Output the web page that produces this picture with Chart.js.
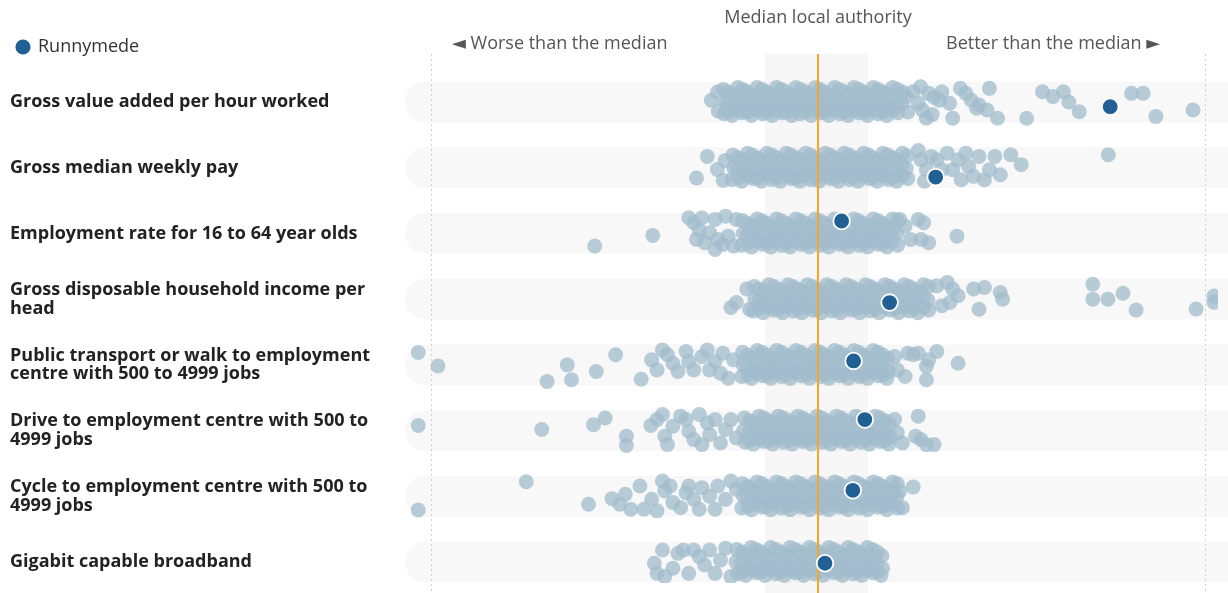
<!DOCTYPE html>
<html>
<head>
<meta charset="utf-8">
<script src="https://cdn.jsdelivr.net/npm/chart.js"></script>
<style>
  html, body { margin: 0; background: #fff; }
</style>
</head>
<body>
<canvas id="chart" width="1228" height="593"></canvas>
<script>
// indicators, top to bottom
const categories = [
  'Gross value added per hour worked',
  'Gross median weekly pay',
  'Employment rate for 16 to 64 year olds',
  ['Gross disposable household income per', 'head'],
  ['Public transport or walk to employment', 'centre with 500 to 4999 jobs'],
  ['Drive to employment centre with 500 to', '4999 jobs'],
  ['Cycle to employment centre with 500 to', '4999 jobs'],
  'Gigabit capable broadband'
];

const medianLabel = 'Median local authority';
const worseLabel = '\u25C4 Worse than the median';
const betterLabel = 'Better than the median \u25BA';

// [score relative to the median (-100 / 100 = guide lines), jitter lane]
const gvaPerHour = [
  [-27.6,-0.1],[-26,-0.55],[-25.8,0.5],
  [-24.5,-0.7],[-24,0],[-24.3,0.65],[-22,-0.4],[-21.8,0.3],[-22.2,0.75],
  [-19.5,-0.7],[-19.3,0.05],[-19.7,0.6],[-17,-0.35],[-16.8,0.35],[-17.2,0.75],
  [-14.5,-0.7],[-14.6,0],[-14.3,0.65],[-12,-0.4],[-12.2,0.3],[-11.8,0.75],
  [-9.5,-0.7],[-9.6,-0.05],[-9.3,0.6],[-7,-0.35],[-7.2,0.35],[-6.8,0.75],
  [-4.5,-0.7],[-4.4,0],[-4.6,0.65],[-2,-0.4],[-2.2,0.3],[-1.8,0.75],
  [0.5,-0.7],[0.4,0.05],[0.7,0.6],[3,-0.35],[3.2,0.35],[2.8,0.75],
  [5.5,-0.7],[5.4,0],[5.6,0.65],[8,-0.4],[8.2,0.3],[7.8,0.75],
  [10.5,-0.7],[10.4,0.05],[10.6,0.6],[13,-0.35],[13.2,0.35],[12.8,0.75],
  [15.5,-0.7],[15.4,0],[15.6,0.65],[18,-0.4],[18.2,0.3],[17.8,0.75],
  [20.5,-0.7],[20.4,0.05],[20.6,0.6],
  [-23.2,-0.55],[-23.3,0.1],[-23.2,0.55],[-20.7,-0.8],[-20.8,-0.15],[-20.7,0.45],
  [-18.2,-0.55],[-18.3,0.1],[-18.2,0.55],[-15.7,-0.8],[-15.8,-0.15],[-15.7,0.45],
  [-13.2,-0.55],[-13.3,0.1],[-13.2,0.55],[-10.7,-0.8],[-10.8,-0.15],[-10.7,0.45],
  [-8.2,-0.55],[-8.3,0.1],[-8.2,0.55],[-5.7,-0.8],[-5.8,-0.15],[-5.7,0.45],
  [-3.2,-0.55],[-3.3,0.1],[-3.2,0.55],[-0.7,-0.8],[-0.8,-0.15],[-0.7,0.45],
  [1.8,-0.55],[1.7,0.1],[1.8,0.55],[4.3,-0.8],[4.2,-0.15],[4.3,0.45],
  [6.8,-0.55],[6.7,0.1],[6.8,0.55],[9.3,-0.8],[9.2,-0.15],[9.3,0.45],
  [11.8,-0.55],[11.7,0.1],[11.8,0.55],[14.3,-0.8],[14.2,-0.15],[14.3,0.45],
  [16.8,-0.55],[16.7,0.1],[16.8,0.55],[19.3,-0.8],[19.2,-0.15],[19.3,0.45],
  [21.8,-0.55],[21.7,0.1],
  [22.8,-0.3],[23.2,0.55],[24.6,-0.57],[25.9,0.07],[26.5,-0.85],[27,0.45],[28,0.9],[28.6,-0.48],[30,-0.25],[29.5,0.7],
  [31.4,-0.1],[32,-0.57],[34,0.07],[34.8,0.9],[36.8,-0.76],[38.2,-0.48],[39.6,-0.1],[41,0.35],[41.6,0.17],[43.7,0.44],[44.3,-0.76],[46.4,0.9],
  [53.9,0.9],[58,-0.57],[60.7,-0.3],[63.4,-0.57],[64.8,0],[67.5,0.54],[81,-0.48],[84,-0.48],[87.3,0.81],[96.9,0.44]
];

const weeklyPay = [
  [-31.4,0.57],[-28.6,-0.63],[-26,0.1],[-24.5,0.7],[-24,-0.4],
  [-22,-0.7],[-21.8,0],[-22.2,0.65],[-19.5,-0.4],[-19.3,0.3],[-19.7,0.75],
  [-17,-0.7],[-17.2,0.05],[-16.8,0.6],[-14.5,-0.35],[-14.3,0.35],[-14.7,0.75],
  [-12,-0.7],[-12.1,0],[-11.9,0.65],[-9.5,-0.4],[-9.3,0.3],[-9.7,0.75],
  [-7,-0.7],[-7.2,0.05],[-6.8,0.6],[-4.5,-0.35],[-4.3,0.35],[-4.7,0.75],
  [-2,-0.7],[-2.1,0],[-1.9,0.65],[0.5,-0.4],[0.7,0.3],[0.3,0.75],
  [3,-0.7],[2.8,0.05],[3.2,0.6],[5.5,-0.35],[5.7,0.35],[5.3,0.75],
  [8,-0.7],[7.9,0],[8.1,0.65],[10.5,-0.4],[10.7,0.3],[10.3,0.75],
  [13,-0.7],[12.8,0.05],[13.2,0.6],[15.5,-0.35],[15.7,0.35],[15.3,0.75],
  [18,-0.7],[17.9,0],[18.1,0.65],[20.5,-0.4],[20.7,0.3],[20.3,0.75],
  [23,-0.65],[22.8,0.05],[23.2,0.6],
  [-20.7,-0.55],[-20.8,0.1],[-20.7,0.55],[-18.2,-0.8],[-18.3,-0.15],[-18.2,0.45],
  [-15.7,-0.55],[-15.8,0.1],[-15.7,0.55],[-13.2,-0.8],[-13.3,-0.15],[-13.2,0.45],
  [-10.7,-0.55],[-10.8,0.1],[-10.7,0.55],[-8.2,-0.8],[-8.3,-0.15],[-8.2,0.45],
  [-5.7,-0.55],[-5.8,0.1],[-5.7,0.55],[-3.2,-0.8],[-3.3,-0.15],[-3.2,0.45],
  [-0.7,-0.55],[-0.8,0.1],[-0.7,0.55],[1.8,-0.8],[1.7,-0.15],[1.8,0.45],
  [4.3,-0.55],[4.2,0.1],[4.3,0.55],[6.8,-0.8],[6.7,-0.15],[6.8,0.45],
  [9.3,-0.55],[9.2,0.1],[9.3,0.55],[11.8,-0.8],[11.7,-0.15],[11.8,0.45],
  [14.3,-0.55],[14.2,0.1],[14.3,0.55],[16.8,-0.8],[16.7,-0.15],[16.8,0.45],
  [19.3,-0.55],[19.2,0.1],[19.3,0.55],[21.8,-0.8],[21.7,-0.15],[21.8,0.45],
  [25.9,-0.95],[26.6,-0.44],[27.5,0.75],[28,0.11],[29.3,-0.63],[30.7,-0.44],[32,0.11],[33.4,-0.81],[34.8,0.11],[36.2,-0.44],[37,0.67],
  [38.2,-0.81],[38.9,-0.07],[40.2,0.48],[41.6,-0.63],[43,0.67],[44.3,0.11],[45.7,-0.63],[47.1,0.39],[49.8,-0.72],[52.5,-0.17],[75,-0.72]
];

const employmentRate = [
  [-57.7,0.7],[-42.7,0.11],
  [-33.4,-0.87],[-32.1,-0.59],[-31.4,0.33],[-30.7,-0.2],[-30,-0.87],[-29.3,0.52],[-28,-0.04],[-26.6,-0.78],[-26.6,0.89],
  [-25.9,0.33],[-24.6,0.61],[-23.9,-0.96],[-23.2,0.15],[-21.8,0.7],[-21.1,-0.78],
  [-19.5,-0.7],[-19.3,0],[-19.7,0.65],[-17,-0.4],[-16.8,0.3],[-17.2,0.75],
  [-14.5,-0.7],[-14.6,0.05],[-14.4,0.6],[-12,-0.35],[-11.8,0.35],[-12.2,0.75],
  [-9.5,-0.7],[-9.6,0],[-9.4,0.65],[-7,-0.4],[-6.8,0.3],[-7.2,0.75],
  [-4.5,-0.7],[-4.6,0.05],[-4.4,0.6],[-2,-0.35],[-1.8,0.35],[-2.2,0.75],
  [0.5,-0.7],[0.4,0],[0.6,0.65],[3,-0.4],[3.2,0.3],[2.8,0.75],
  [5.5,-0.7],[5.4,0.05],[5.6,0.6],[8,-0.35],[8.2,0.35],[7.8,0.75],
  [10.5,-0.7],[10.4,0],[10.6,0.65],[13,-0.4],[13.2,0.3],[12.8,0.75],
  [15.5,-0.7],[15.4,0.05],[15.6,0.6],[18,-0.35],[18.2,0.35],[17.8,0.75],
  [20.5,-0.7],[20.4,0],[20.6,0.65],
  [-18.2,-0.55],[-18.3,0.1],[-18.2,0.55],[-15.7,-0.8],[-15.8,-0.15],[-15.7,0.45],
  [-13.2,-0.55],[-13.3,0.1],[-13.2,0.55],[-10.7,-0.8],[-10.8,-0.15],[-10.7,0.45],
  [-8.2,-0.55],[-8.3,0.1],[-8.2,0.55],[-5.7,-0.8],[-5.8,-0.15],[-5.7,0.45],
  [-3.2,-0.55],[-3.3,0.1],[-3.2,0.55],[-0.7,-0.8],[-0.8,-0.15],[-0.7,0.45],
  [1.8,-0.55],[1.7,0.1],[1.8,0.55],[4.3,-0.8],[4.2,-0.15],[4.3,0.45],
  [6.8,-0.55],[6.7,0.1],[6.8,0.55],[9.3,-0.8],[9.2,-0.15],[9.3,0.45],
  [11.8,-0.55],[11.7,0.1],[11.8,0.55],[14.3,-0.8],[14.2,-0.15],[14.3,0.45],
  [16.8,-0.55],[16.7,0.1],[16.8,0.55],[19.3,-0.8],[19.2,-0.15],[19.3,0.45],
  [21.1,-0.78],[22.5,-0.41],[23.9,0.33],[25.9,-0.78],[26.6,0.33],[27.3,-0.59],[28.6,0.52],[35.9,0.15]
];

const householdIncome = [
  [-22.5,0.46],[-21.1,0.19],[-18.4,-0.56],[-17.7,0.56],
  [-16.5,-0.7],[-16.3,0],[-16.7,0.65],[-14,-0.4],[-13.8,0.3],[-14.2,0.75],
  [-11.5,-0.7],[-11.6,0.05],[-11.4,0.6],[-9,-0.35],[-8.8,0.35],[-9.2,0.75],
  [-6.5,-0.7],[-6.6,0],[-6.4,0.65],[-4,-0.4],[-3.8,0.3],[-4.2,0.75],
  [-1.5,-0.7],[-1.6,0.05],[-1.4,0.6],[1,-0.35],[1.2,0.35],[0.8,0.75],
  [3.5,-0.7],[3.4,0],[3.6,0.65],[6,-0.4],[6.2,0.3],[5.8,0.75],
  [8.5,-0.7],[8.4,0.05],[8.6,0.6],[11,-0.35],[11.2,0.35],[10.8,0.75],
  [13.5,-0.7],[13.4,0],[13.6,0.65],[16,-0.4],[16.2,0.3],[15.8,0.75],
  [18.5,-0.7],[18.4,0.05],[18.6,0.6],[21,-0.35],[21.2,0.35],[20.8,0.75],
  [23.5,-0.7],[23.4,0],[23.6,0.65],[26,-0.4],[26.2,0.3],[25.8,0.75],
  [28.5,-0.7],[28.4,0.05],[28.6,0.6],
  [-15.2,-0.55],[-15.3,0.1],[-15.2,0.55],[-12.7,-0.8],[-12.8,-0.15],[-12.7,0.45],
  [-10.2,-0.55],[-10.3,0.1],[-10.2,0.55],[-7.7,-0.8],[-7.8,-0.15],[-7.7,0.45],
  [-5.2,-0.55],[-5.3,0.1],[-5.2,0.55],[-2.7,-0.8],[-2.8,-0.15],[-2.7,0.45],
  [-0.2,-0.55],[-0.3,0.1],[-0.2,0.55],[2.3,-0.8],[2.2,-0.15],[2.3,0.45],
  [4.8,-0.55],[4.7,0.1],[4.8,0.55],[7.3,-0.8],[7.2,-0.15],[7.3,0.45],
  [9.8,-0.55],[9.7,0.1],[9.8,0.55],[12.3,-0.8],[12.2,-0.15],[12.3,0.45],
  [14.8,-0.55],[14.7,0.1],[14.8,0.55],[17.3,-0.8],[17.2,-0.15],[17.3,0.45],
  [19.8,-0.55],[19.7,0.1],[19.8,0.55],[22.3,-0.8],[22.2,-0.15],[22.3,0.45],
  [24.8,-0.55],[24.7,0.1],[24.8,0.55],[27.3,-0.8],[27.2,-0.15],[27.3,0.45],
  [30.7,-0.74],[32,0.37],[33.4,-0.93],[34.1,0.19],[34.8,-0.56],[36.2,-0.19],[40.2,-0.56],[41.6,0.56],[43,-0.65],[47.1,-0.37],[47.7,0],
  [71,-0.83],[71,0],[74.9,0],[78.8,-0.33],[82.2,0.6],[97.7,0.55],[102.3,-0.17],[102.3,0.17]
];

const publicTransport = [
  [-103.3,-0.69],[-98.2,0.06],[-70,0.93],[-64.8,0],[-63.7,0.83],[-57.3,0.37],[-52.3,-0.56],[-45.7,0.8],[-43,-0.28],
  [-41.6,0.28],[-40.2,-0.83],[-38.9,-0.56],[-37.5,-0.09],[-36.2,0.37],[-34.1,-0.74],[-33.4,-0.19],[-32.1,0.28],
  [-30,-0.46],[-28.6,-0.83],[-28,0.28],[-26.6,-0.19],[-25.2,0.46],[-24.6,-0.65],[-23.2,0.74],[-21.8,-0.28],
  [-19.5,-0.7],[-19.3,0],[-19.7,0.65],[-17,-0.4],[-16.8,0.3],[-17.2,0.75],
  [-14.5,-0.7],[-14.6,0.05],[-14.4,0.6],[-12,-0.35],[-11.8,0.35],[-12.2,0.75],
  [-9.5,-0.7],[-9.6,0],[-9.4,0.65],[-7,-0.4],[-6.8,0.3],[-7.2,0.75],
  [-4.5,-0.7],[-4.6,0.05],[-4.4,0.6],[-2,-0.35],[-1.8,0.35],[-2.2,0.75],
  [0.5,-0.7],[0.4,0],[0.6,0.65],[3,-0.4],[3.2,0.3],[2.8,0.75],
  [5.5,-0.7],[5.4,0.05],[5.6,0.6],[8,-0.35],[8.2,0.35],[7.8,0.75],
  [10.5,-0.7],[10.4,0],[10.6,0.65],[13,-0.4],[13.2,0.3],[12.8,0.75],
  [15.5,-0.7],[15.4,0.05],[15.6,0.6],[18,-0.35],[18.2,0.35],[17.8,0.75],
  [-18.2,-0.55],[-18.3,0.1],[-18.2,0.55],[-15.7,-0.8],[-15.8,-0.15],[-15.7,0.45],
  [-13.2,-0.55],[-13.3,0.1],[-13.2,0.55],[-10.7,-0.8],[-10.8,-0.15],[-10.7,0.45],
  [-8.2,-0.55],[-8.3,0.1],[-8.2,0.55],[-5.7,-0.8],[-5.8,-0.15],[-5.7,0.45],
  [-3.2,-0.55],[-3.3,0.1],[-3.2,0.55],[-0.7,-0.8],[-0.8,-0.15],[-0.7,0.45],
  [1.8,-0.55],[1.7,0.1],[1.8,0.55],[4.3,-0.8],[4.2,-0.15],[4.3,0.45],
  [6.8,-0.55],[6.7,0.1],[6.8,0.55],[9.3,-0.8],[9.2,-0.15],[9.3,0.45],
  [11.8,-0.55],[11.7,0.1],[11.8,0.55],[14.3,-0.8],[14.2,-0.15],[14.3,0.45],
  [16.8,-0.55],[16.7,0.1],[16.8,0.55],
  [19.8,-0.46],[20.5,0.28],[22.5,0.65],[23.2,-0.65],[24.6,-0.56],[25.9,-0.65],[28,0.09],[28,0.83],[28.6,-0.28],[30.7,-0.74],[36.2,-0.09]
];

const drive = [
  [-103.3,-0.28],[-71.4,-0.06],[-58,-0.33],[-55,-0.7],[-49.5,0.31],[-49.5,0.83],[-43.2,-0.28],
  [-41.6,-0.61],[-40.2,-0.89],[-39.6,0.31],[-38.9,0.78],[-37.5,-0.24],[-35.5,-0.8],[-34.1,-0.61],[-33.4,0.04],[-32.1,0.5],
  [-30.7,-0.89],[-30,0.78],[-28.6,-0.43],[-28,0.22],[-26.6,-0.61],[-25.2,0.69],[-23.9,-0.06],[-22.5,-0.61],[-21.1,0.41],
  [-19,-0.7],[-19.2,0],[-18.8,0.65],[-16.5,-0.4],[-16.3,0.3],[-16.7,0.75],
  [-14,-0.7],[-14.1,0.05],[-13.9,0.6],[-11.5,-0.35],[-11.3,0.35],[-11.7,0.75],
  [-9,-0.7],[-9.1,0],[-8.9,0.65],[-6.5,-0.4],[-6.3,0.3],[-6.7,0.75],
  [-4,-0.7],[-4.1,0.05],[-3.9,0.6],[-1.5,-0.35],[-1.3,0.35],[-1.7,0.75],
  [1,-0.7],[0.9,0],[1.1,0.65],[3.5,-0.4],[3.7,0.3],[3.3,0.75],
  [6,-0.7],[5.9,0.05],[6.1,0.6],[8.5,-0.35],[8.7,0.35],[8.3,0.75],
  [11,-0.7],[10.9,0],[11.1,0.65],[13.5,-0.4],[13.7,0.3],[13.3,0.75],
  [16,-0.7],[15.9,0.05],[16.1,0.6],[18.5,-0.35],[18.7,0.35],[18.3,0.75],
  [-17.7,-0.55],[-17.8,0.1],[-17.7,0.55],[-15.2,-0.8],[-15.3,-0.15],[-15.2,0.45],
  [-12.7,-0.55],[-12.8,0.1],[-12.7,0.55],[-10.2,-0.8],[-10.3,-0.15],[-10.2,0.45],
  [-7.7,-0.55],[-7.8,0.1],[-7.7,0.55],[-5.2,-0.8],[-5.3,-0.15],[-5.2,0.45],
  [-2.7,-0.55],[-2.8,0.1],[-2.7,0.55],[-0.2,-0.8],[-0.3,-0.15],[-0.2,0.45],
  [2.3,-0.55],[2.2,0.1],[2.3,0.55],[4.8,-0.8],[4.7,-0.15],[4.8,0.45],
  [7.3,-0.55],[7.2,0.1],[7.3,0.55],[9.8,-0.8],[9.7,-0.15],[9.8,0.45],
  [12.3,-0.55],[12.2,0.1],[12.3,0.55],[14.8,-0.8],[14.7,-0.15],[14.8,0.45],
  [17.3,-0.55],[17.2,0.1],[17.3,0.55],
  [19.8,-0.61],[20.5,0.13],[21.8,0.69],[25.2,0.31],[25.9,-0.8],[26.6,0.5],[28,0.78],[30,0.78]
];

const cycle = [
  [-103.3,0.76],[-75.4,-0.81],[-59.3,0.44],[-53.2,0.13],[-51.2,0.44],[-49.8,-0.11],[-48.4,0.72],[-46,-0.57],[-45,0.72],
  [-43,0.17],[-41.6,0.81],[-40.2,-0.85],[-39.6,-0.3],[-38.2,-0.57],[-37.5,0.35],[-35.5,0.63],[-34.1,-0.2],[-33.4,-0.57],
  [-32.1,0.17],[-30.7,0.72],[-30,-0.48],[-28,0],[-26.6,0.72],[-25.9,-0.57],[-23.9,0.17],[-22.5,-0.85],[-21.1,-0.39],
  [-19.5,-0.7],[-19.3,0],[-19.7,0.65],[-17,-0.4],[-16.8,0.3],[-17.2,0.75],
  [-14.5,-0.7],[-14.6,0.05],[-14.4,0.6],[-12,-0.35],[-11.8,0.35],[-12.2,0.75],
  [-9.5,-0.7],[-9.6,0],[-9.4,0.65],[-7,-0.4],[-6.8,0.3],[-7.2,0.75],
  [-4.5,-0.7],[-4.6,0.05],[-4.4,0.6],[-2,-0.35],[-1.8,0.35],[-2.2,0.75],
  [0.5,-0.7],[0.4,0],[0.6,0.65],[3,-0.4],[3.2,0.3],[2.8,0.75],
  [5.5,-0.7],[5.4,0.05],[5.6,0.6],[8,-0.35],[8.2,0.35],[7.8,0.75],
  [10.5,-0.7],[10.4,0],[10.6,0.65],[13,-0.4],[13.2,0.3],[12.8,0.75],
  [15.5,-0.7],[15.4,0.05],[15.6,0.6],[18,-0.35],[18.2,0.35],[17.8,0.75],
  [20.5,-0.7],[20.4,0],[20.6,0.65],
  [-18.2,-0.55],[-18.3,0.1],[-18.2,0.55],[-15.7,-0.8],[-15.8,-0.15],[-15.7,0.45],
  [-13.2,-0.55],[-13.3,0.1],[-13.2,0.55],[-10.7,-0.8],[-10.8,-0.15],[-10.7,0.45],
  [-8.2,-0.55],[-8.3,0.1],[-8.2,0.55],[-5.7,-0.8],[-5.8,-0.15],[-5.7,0.45],
  [-3.2,-0.55],[-3.3,0.1],[-3.2,0.55],[-0.7,-0.8],[-0.8,-0.15],[-0.7,0.45],
  [1.8,-0.55],[1.7,0.1],[1.8,0.55],[4.3,-0.8],[4.2,-0.15],[4.3,0.45],
  [6.8,-0.55],[6.7,0.1],[6.8,0.55],[9.3,-0.8],[9.2,-0.15],[9.3,0.45],
  [11.8,-0.55],[11.7,0.1],[11.8,0.55],[14.3,-0.8],[14.2,-0.15],[14.3,0.45],
  [16.8,-0.55],[16.7,0.1],[16.8,0.55],[19.3,-0.8],[19.2,-0.15],[19.3,0.45],
  [21.1,-0.3],[21.8,0.63],[24.6,-0.52]
];

const broadband = [
  [-42.3,0.07],[-41.6,0.63],[-40.2,-0.67],[-39.6,0.81],[-37.5,0.35],[-36.2,-0.48],[-34.8,-0.67],[-33.4,0.63],
  [-32.1,-0.67],[-30.7,-0.3],[-29.3,0.17],[-28,-0.67],[-26.6,0.63],[-25.2,-0.11],[-23.9,-0.76],[-22.5,0.81],
  [-21,-0.7],[-21.2,0],[-20.8,0.65],[-18.5,-0.4],[-18.3,0.3],[-18.7,0.75],
  [-16,-0.7],[-16.1,0.05],[-15.9,0.6],[-13.5,-0.35],[-13.3,0.35],[-13.7,0.75],
  [-11,-0.7],[-11.1,0],[-10.9,0.65],[-8.5,-0.4],[-8.3,0.3],[-8.7,0.75],
  [-6,-0.7],[-6.1,0.05],[-5.9,0.6],[-3.5,-0.35],[-3.3,0.35],[-3.7,0.75],
  [-1,-0.7],[-1.1,0],[-0.9,0.65],[1.5,-0.4],[1.7,0.3],[1.3,0.75],
  [4,-0.7],[3.9,0.05],[4.1,0.6],[6.5,-0.35],[6.7,0.35],[6.3,0.75],
  [9,-0.7],[8.9,0],[9.1,0.65],[11.5,-0.4],[11.7,0.3],[11.3,0.75],
  [14,-0.7],[13.9,0.05],[14.1,0.6],[16.5,-0.35],[16.7,0.35],[16.3,0.75],
  [-19.7,-0.55],[-19.8,0.1],[-19.7,0.55],[-17.2,-0.8],[-17.3,-0.15],[-17.2,0.45],
  [-14.7,-0.55],[-14.8,0.1],[-14.7,0.55],[-12.2,-0.8],[-12.3,-0.15],[-12.2,0.45],
  [-9.7,-0.55],[-9.8,0.1],[-9.7,0.55],[-7.2,-0.8],[-7.3,-0.15],[-7.2,0.45],
  [-4.7,-0.55],[-4.8,0.1],[-4.7,0.55],[-2.2,-0.8],[-2.3,-0.15],[-2.2,0.45],
  [0.3,-0.55],[0.2,0.1],[0.3,0.55],[2.8,-0.8],[2.7,-0.15],[2.8,0.45],
  [5.3,-0.55],[5.2,0.1],[5.3,0.55],[7.8,-0.8],[7.7,-0.15],[7.8,0.45],
  [10.3,-0.55],[10.2,0.1],[10.3,0.55],[12.8,-0.8],[12.7,-0.15],[12.8,0.45],
  [15.3,-0.55],[15.2,0.1],[15.3,0.55]
];

const runnymedeScores = [75.5, 30.4, 6.1, 18.5, 9.2, 12.1, 9.0, 1.8];
const runnymedeLanes = [0.26, 0.52, -0.69, 0.19, -0.22, -0.61, -0.33, 0.07];

// shaded middle band around the median
const middleBand = [-13.7, 12.9];

const rows = [gvaPerHour, weeklyPay, employmentRate, householdIncome, publicTransport, drive, cycle, broadband];
const LANE = 0.274;   // jitter lane -> row units
const TOP = 54;       // where guide lines start

const others = [];
rows.forEach((pts, row) => {
  pts.forEach(([v, lane]) => others.push({ x: v, y: row + lane * LANE }));
});
const runnymede = runnymedeScores.map((v, row) => ({ x: v, y: row + runnymedeLanes[row] * LANE }));

const font = "'Open Sans', 'DejaVu Sans', sans-serif";

const backdrop = {
  id: 'backdrop',
  beforeDatasetsDraw(chart) {
    const { ctx, chartArea, scales: { x, y } } = chart;
    ctx.save();
    // rounded row bands
    ctx.fillStyle = '#f8f8f8';
    categories.forEach((_, i) => {
      const top = y.getPixelForValue(i - 0.31);
      const bottom = y.getPixelForValue(i + 0.31);
      const h = bottom - top;
      ctx.beginPath();
      ctx.roundRect(chartArea.left, top, chart.width - chartArea.left + 40, h, h / 2);
      ctx.fill();
    });
    // middle band
    const b0 = x.getPixelForValue(middleBand[0]);
    const b1 = x.getPixelForValue(middleBand[1]);
    ctx.fillStyle = 'rgba(0,0,0,0.03)';
    ctx.fillRect(b0, TOP, b1 - b0, chart.height - TOP);
    // dotted guides
    ctx.strokeStyle = '#d0d0d0';
    ctx.lineWidth = 1;
    ctx.setLineDash([2, 3]);
    [-100, 100].forEach(v => {
      const px = Math.round(x.getPixelForValue(v)) + 0.5;
      ctx.beginPath();
      ctx.moveTo(px, TOP);
      ctx.lineTo(px, chart.height);
      ctx.stroke();
    });
    ctx.restore();
  },
  afterDatasetDraw(chart, args) {
    if (args.index !== 1) return;
    const { ctx, scales: { x } } = chart;
    const px = x.getPixelForValue(0);
    ctx.save();
    ctx.strokeStyle = '#f5a623';
    ctx.lineWidth = 2;
    ctx.beginPath();
    ctx.moveTo(px, TOP);
    ctx.lineTo(px, chart.height);
    ctx.stroke();
    ctx.restore();
  },
  afterDraw(chart) {
    const { ctx, scales: { x } } = chart;
    ctx.save();
    ctx.font = '18px ' + font;
    ctx.fillStyle = '#555';
    ctx.textBaseline = 'middle';
    ctx.textAlign = 'center';
    ctx.fillText(medianLabel, x.getPixelForValue(0), 18);
    ctx.textAlign = 'left';
    ctx.fillText(worseLabel, x.getPixelForValue(-100) + 21, 44);
    ctx.textAlign = 'right';
    ctx.fillText(betterLabel, x.getPixelForValue(100) - 45, 44);
    ctx.restore();
  }
};

new Chart(document.getElementById('chart'), {
  type: 'scatter',
  data: {
    datasets: [
      {
        label: 'Runnymede',
        data: runnymede,
        pointRadius: 8.3,
        backgroundColor: '#206095',
        borderColor: '#ffffff',
        borderWidth: 1.8,
      },
      {
        label: 'Local authorities',
        data: others,
        pointRadius: 7.5,
        backgroundColor: 'rgba(162, 188, 204, 0.75)',
        borderWidth: 0,
      },
    ],
  },
  options: {
    responsive: false,
    animation: false,
    events: [],
    devicePixelRatio: 1,
    layout: { padding: { top: 31, left: 10, right: 0, bottom: 0 } },
    plugins: {
      tooltip: { enabled: false },
      legend: {
        position: 'top',
        align: 'start',
        labels: {
          filter: item => item.text === 'Runnymede',
          usePointStyle: true,
          boxWidth: 12,
          boxHeight: 12,
          padding: 7,
          color: '#333',
          font: { family: font, size: 18 },
        },
      },
    },
    scales: {
      x: {
        type: 'linear',
        min: -106.72,
        max: 103.33,
        display: false,
      },
      y: {
        type: 'linear',
        reverse: true,
        min: -0.548,
        max: 7.318,
        grid: { display: false },
        border: { display: false },
        afterFit(scale) {
          scale.width = 395;
          scale.paddingTop = 0;
          scale.paddingBottom = 0;
          scale.paddingLeft = 0;
          scale.paddingRight = 0;
        },
        afterBuildTicks(scale) { scale.ticks = categories.map((_, i) => ({ value: i })); },
        ticks: {
          autoSkip: false,
          crossAlign: 'far',
          color: '#222',
          font: { family: font, size: 18, weight: 'bold', lineHeight: 1.05 },
          callback: value => categories[value],
        },
      },
    },
  },
  plugins: [backdrop],
});
</script>
</body>
</html>
